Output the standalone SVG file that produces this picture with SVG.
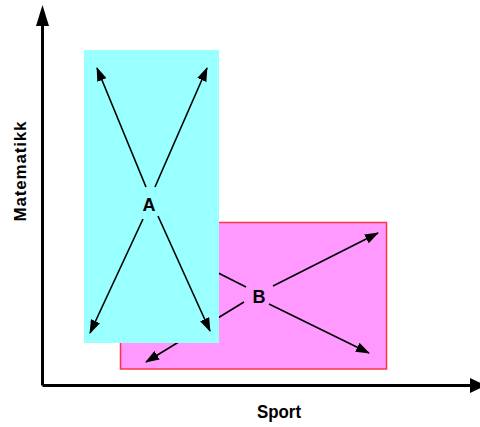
<svg xmlns="http://www.w3.org/2000/svg" width="480" height="427" viewBox="0 0 480 427">
<style>
.lbl{font-family:"Liberation Sans",Arial,sans-serif;font-weight:bold;fill:#000}
.arr{stroke:#000;stroke-width:1.6;fill:none;marker-end:url(#ah)}
.axis{stroke:#000;stroke-width:3;fill:none}
</style>
<defs>
<marker id="ah" viewBox="0 0 14 10" refX="13" refY="5" markerWidth="14" markerHeight="10" markerUnits="userSpaceOnUse" orient="auto">
<path d="M0,0 L14,5 L0,10 Z" fill="#000"/>
</marker>
</defs>
<rect width="480" height="427" fill="#fff"/>
<g id="axes">
<line class="axis" x1="42.5" y1="385.5" x2="42.5" y2="24"/>
<path d="M36,26 L42.5,5 L49,26 Z" fill="#000"/>
<line class="axis" x1="42.5" y1="385.5" x2="472" y2="385.5"/>
<path d="M470,378 L486,385.5 L470,393 Z" fill="#000"/>
</g>
<g id="B">
<rect x="120.5" y="222.5" width="266" height="146.5" fill="#FF99FF" stroke="#FF3344" stroke-width="1.5"/>
<text class="lbl" x="259" y="303" font-size="18" text-anchor="middle">B</text>
<g class="connectors">
<line class="arr" x1="273" y1="286" x2="378" y2="233"/>
<line class="arr" x1="269" y1="304" x2="369" y2="353"/>
<line class="arr" x1="246" y1="287" x2="141" y2="234"/>
<line class="arr" x1="244" y1="302" x2="146" y2="362"/>
</g>
</g>
<g id="A">
<rect x="84" y="50" width="135" height="293" fill="#99FFFF"/>
<text class="lbl" x="149" y="211" font-size="18" text-anchor="middle">A</text>
<g class="connectors">
<line class="arr" x1="146" y1="187" x2="97" y2="68"/>
<line class="arr" x1="155" y1="187" x2="207" y2="68"/>
<line class="arr" x1="143" y1="219" x2="90" y2="333"/>
<line class="arr" x1="158" y1="216" x2="210" y2="331"/>
</g>
</g>
<text class="lbl" x="279" y="418" font-size="18" text-anchor="middle" textLength="44" lengthAdjust="spacingAndGlyphs">Sport</text>
<text class="lbl" transform="translate(26,171.5) rotate(-90)" x="0" y="0" font-size="17" text-anchor="middle" textLength="100" lengthAdjust="spacing">Matematikk</text>
</svg>
